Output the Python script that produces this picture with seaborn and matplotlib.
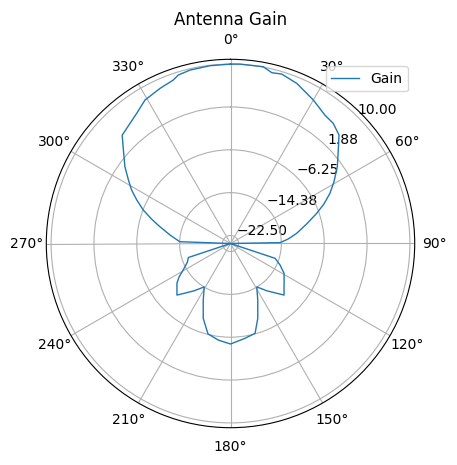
"""
Antenna gain polar pattern
"""

import numpy as np
import matplotlib
matplotlib.use("Agg")
import matplotlib.pyplot as plt
import seaborn as sns

# pattern: angle (deg, clockwise from north) and gain (dB)
ANGLES_DEG = [0, 3, 10.5, 13.6, 16.8, 22.5, 30, 36.3, 40.5, 45, 49.1, 54.3,
              59.2, 63.2, 67.1, 70.7, 75.6, 81.2, 85.5, 89, 90,
              108, 108.4, 113.5, 119.1, 123, 126.6, 130, 133.9, 137.1, 142.5,
              148.8, 154.3, 160, 164.7, 171.3, 180, 187.2, 194, 200, 205.7,
              211.2, 217.5, 222.9, 226.1, 230, 233.4, 237, 240.9, 246.5,
              251.6, 252, 270, 272, 278, 283.4, 287.1, 291, 294.9, 298.4,
              301.9, 306, 311.1, 315, 324.2, 329.2, 335.6, 340.7, 342.8,
              346.9, 353.4, 360]
GAIN_DB = [10.0, 10.05, 10.07, 9.3, 9.55, 8.84, 7.4, 6.2, 5.96, 5.08, 3.02,
           0.92, -1.18, -2.89, -4.79, -6.7, -9.11, -11.3, -13.03, -14.6, -24.0,
           -24.0, -15.1, -13.77, -12.4, -11.9, -11.36, -10.77, -9.92, -11.13,
           -12.72, -14.4, -12.1, -8.9, -6.36, -5.83, -4.96, -5.56, -6.36,
           -8.9, -12.1, -14.4, -12.72, -11.13, -9.92, -10.77, -11.36, -12.4,
           -13.77, -15.1, -15.6, -24.0, -24.0, -14.4, -12.44, -10.26, -8.4,
           -6.3, -4.43, -2.7, -1.22, 0.73, 2.93, 5.03, 6.4, 7.65, 8.29, 8.82,
           9.43, 9.75, 9.92, 10.0]

R_TICKS = [-22.5, -14.375, -6.25, 1.875, 10.0]
R_LIM = (-24.02, 10.91)
THETA_TICKS = list(range(0, 360, 30))

theta = np.deg2rad(ANGLES_DEG)

fig = plt.figure(figsize=(4.57, 4.65), dpi=100)
ax = fig.add_axes([46 / 457, 37.3 / 465, 369 / 457, 368.4 / 465], projection="polar")
ax.set_theta_zero_location("N")
ax.set_theta_direction(-1)

sns.lineplot(x=theta, y=GAIN_DB, sort=False, ax=ax, linewidth=1,
             color="#1f77b4", label="Gain")

ax.set_thetagrids(THETA_TICKS)
ax.set_rlim(*R_LIM)
ax.set_rticks(R_TICKS)
ax.set_yticklabels([f"{v:.2f}".replace("-", "\u2212") for v in R_TICKS])
ax.set_rlabel_position(45)
ax.set_xlabel("")
ax.set_ylabel("")
ax.grid(True)
ax.set_title("Antenna Gain")
ax.legend(loc="upper right")

fig.savefig("out.png", dpi=100)
